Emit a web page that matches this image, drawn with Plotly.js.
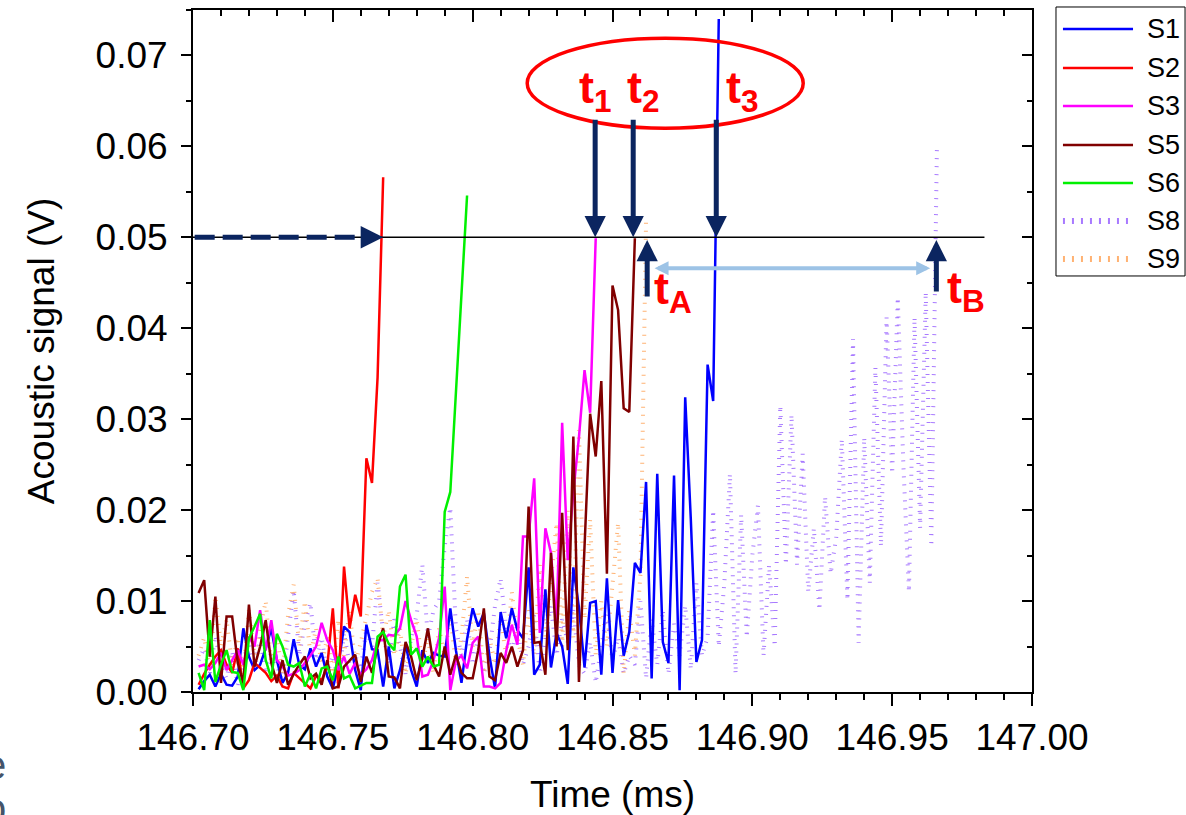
<!DOCTYPE html>
<html>
<head>
<meta charset="utf-8">
<script src="https://cdn.plot.ly/plotly-3.0.1.min.js"></script>
<style>html,body{margin:0;padding:0;background:#fff;}#chart{width:1186px;height:815px;}</style>
</head>
<body>
<div id="chart"></div>
<script>
// Sample times (ms), 2 µs sampling
const T = [
146.700,146.702,146.704,146.706,146.708,146.710,146.712,146.714,146.716,146.718,
146.720,146.722,146.724,146.726,146.728,146.730,146.732,146.734,146.736,146.738,
146.740,146.742,146.744,146.746,146.748,146.750,146.752,146.754,146.756,146.758,
146.760,146.762,146.764,146.766,146.768,146.770,146.772,146.774,146.776,146.778,
146.780,146.782,146.784,146.786,146.788,146.790,146.792,146.794,146.796,146.798,
146.800,146.802,146.804,146.806,146.808,146.810,146.812,146.814,146.816,146.818,
146.820,146.822,146.824,146.826,146.828,146.830,146.832,146.834,146.836,146.838,
146.840,146.842,146.844,146.846,146.848,146.850,146.852,146.854,146.856,146.858,
146.860,146.862,146.864,146.866,146.868,146.870,146.872,146.874,146.876,146.878,
146.880,146.882,146.884,146.886,146.888,146.890,146.892,146.894,146.896,146.898,
146.900,146.902,146.904,146.906,146.908,146.910,146.912,146.914,146.916,146.918,
146.920,146.922,146.924,146.926,146.928,146.930,146.932,146.934,146.936,146.938,
146.940,146.942,146.944,146.946,146.948,146.950,146.952,146.954,146.956,146.958,
146.960,146.962,146.964,146.966
];

const S1 = [
0.0003,0.0012,0.0019,0.0006,0.0020,0.0008,0.0007,0.0017,0.0070,0.0039,
0.0024,0.0030,0.0048,0.0070,0.0035,0.0010,0.0021,0.0058,0.0030,0.0025,
0.0048,0.0028,0.0043,0.0017,0.0004,0.0030,0.0072,0.0066,0.0024,0.0002,
0.0074,0.0047,0.0046,0.0006,0.0050,0.0004,0.0024,0.0052,0.0024,0.0006,
0.0046,0.0032,0.0043,0.0040,0.0039,0.0092,0.0046,0.0010,0.0058,0.0092,
0.0072,0.0087,0.0040,0.0004,0.0088,0.0059,0.0092,0.0068,0.0059,0.0137,
0.0019,0.0030,0.0113,0.0027,0.0065,0.0050,0.0009,0.0137,0.0093,0.0027,
0.0098,0.0100,0.0019,0.0125,0.0021,0.0101,0.0040,0.0066,0.0142,0.0131,
0.0231,0.0015,0.0240,0.0055,0.0032,0.0238,0.0002,0.0324,0.0190,0.0033,
0.0057,0.0360,0.0320,0.0740
];
const S2 = [
0.0008,0.0020,0.0030,0.0039,0.0046,0.0030,0.0021,0.0048,0.0004,0.0013,
0.0032,0.0026,0.0021,0.0012,0.0018,0.0006,0.0004,0.0021,0.0015,0.0010,
0.0004,0.0018,0.0013,0.0028,0.0092,0.0004,0.0138,0.0070,0.0107,0.0083,
0.0257,0.0230,0.0346,0.0566
];
const S3 = [
0.0028,0.0030,0.0025,0.0032,0.0043,0.0024,0.0035,0.0046,0.0030,0.0061,
0.0050,0.0090,0.0046,0.0079,0.0035,0.0028,0.0018,0.0020,0.0024,0.0032,
0.0040,0.0050,0.0076,0.0057,0.0046,0.0024,0.0039,0.0020,0.0032,0.0019,
0.0025,0.0035,0.0057,0.0057,0.0063,0.0062,0.0070,0.0100,0.0079,0.0061,
0.0017,0.0019,0.0035,0.0060,0.0116,0.0002,0.0034,0.0040,0.0026,0.0054,
0.0061,0.0006,0.0006,0.0004,0.0010,0.0045,0.0074,0.0052,0.0171,0.0171,
0.0235,0.0065,0.0180,0.0153,0.0076,0.0296,0.0145,0.0220,0.0280,0.0354,
0.0307,0.0499
];
const S5 = [
0.0109,0.0123,0.0039,0.0105,0.0010,0.0083,0.0083,0.0032,0.0010,0.0096,
0.0028,0.0050,0.0079,0.0032,0.0010,0.0035,0.0008,0.0020,0.0030,0.0039,
0.0015,0.0020,0.0008,0.0035,0.0004,0.0006,0.0028,0.0035,0.0041,0.0011,
0.0039,0.0021,0.0050,0.0070,0.0017,0.0016,0.0004,0.0055,0.0039,0.0013,
0.0037,0.0070,0.0030,0.0017,0.0050,0.0019,0.0041,0.0021,0.0015,0.0015,
0.0046,0.0092,0.0017,0.0013,0.0043,0.0032,0.0050,0.0028,0.0046,0.0204,
0.0054,0.0055,0.0019,0.0153,0.0050,0.0197,0.0046,0.0281,0.0011,0.0160,
0.0306,0.0259,0.0342,0.0130,0.0447,0.0420,0.0312,0.0308,0.0499
];
const S6 = [
0.0021,0.0002,0.0079,0.0011,0.0030,0.0046,0.0022,0.0021,0.0002,0.0059,
0.0072,0.0086,0.0035,0.0015,0.0064,0.0050,0.0030,0.0028,0.0032,0.0006,
0.0020,0.0004,0.0026,0.0028,0.0013,0.0039,0.0015,0.0018,0.0004,0.0007,
0.0010,0.0010,0.0061,0.0066,0.0053,0.0046,0.0116,0.0129,0.0041,0.0048,
0.0028,0.0039,0.0028,0.0030,0.0198,0.0220,0.0329,0.0438,0.0546
];
const S8 = [
0.0035,0.0048,0.0020,0.0062,0.0030,0.0015,0.0045,0.0008,0.0035,0.0055,
0.0025,0.0060,0.0020,0.0045,0.0030,0.0010,0.0062,0.0112,0.0040,0.0075,
0.0098,0.0035,0.0060,0.0020,0.0040,0.0010,0.0065,0.0030,0.0040,0.0025,
0.0070,0.0050,0.0120,0.0065,0.0030,0.0080,0.0050,0.0020,0.0060,0.0085,
0.0140,0.0060,0.0090,0.0100,0.0160,0.0203,0.0070,0.0040,0.0080,0.0030,
0.0060,0.0020,0.0045,0.0095,0.0125,0.0070,0.0040,0.0075,0.0030,0.0050,
0.0085,0.0020,0.0060,0.0095,0.0040,0.0080,0.0055,0.0090,0.0030,0.0020,
0.0055,0.0010,0.0050,0.0085,0.0035,0.0060,0.0020,0.0040,0.0030,0.0100,
0.0015,0.0080,0.0030,0.0090,0.0020,0.0075,0.0040,0.0095,0.0025,0.0120,
0.0040,0.0060,0.0200,0.0050,0.0120,0.0240,0.0020,0.0195,0.0060,0.0150,
0.0205,0.0040,0.0140,0.0050,0.0315,0.0140,0.0305,0.0140,0.0262,0.0110,
0.0180,0.0090,0.0215,0.0130,0.0170,0.0278,0.0101,0.0388,0.0054,0.0280,
0.0120,0.0357,0.0160,0.0412,0.0240,0.0434,0.0250,0.0110,0.0412,0.0180,
0.0440,0.0160,0.0598
];
const S9 = [
0.0040,0.0060,0.0025,0.0105,0.0050,0.0080,0.0030,0.0060,0.0020,0.0090,
0.0040,0.0070,0.0100,0.0030,0.0060,0.0020,0.0085,0.0118,0.0050,0.0100,
0.0040,0.0070,0.0030,0.0060,0.0020,0.0080,0.0040,0.0090,0.0030,0.0055,
0.0085,0.0110,0.0125,0.0060,0.0090,0.0040,0.0070,0.0020,0.0050,0.0080,
0.0030,0.0060,0.0020,0.0070,0.0040,0.0085,0.0030,0.0060,0.0127,0.0050,
0.0090,0.0020,0.0060,0.0030,0.0080,0.0040,0.0110,0.0060,0.0030,0.0090,
0.0040,0.0140,0.0060,0.0120,0.0186,0.0050,0.0200,0.0060,0.0288,0.0080,
0.0190,0.0040,0.0100,0.0050,0.0120,0.0186,0.0020,0.0090,0.0040,0.0130,
0.0519
];

const seriesNames = ['S1','S2','S3','S5','S6','S8','S9'];
const seriesData  = [S1, S2, S3, S5, S6, S8, S9];
const seriesColor = ['#0000FF','#FF0000','#FF00FF','#800000','#00F000','rgb(168,122,255)','rgb(255,178,115)'];
const dotted = [false,false,false,false,false,true,true];

// Markers / annotation values (data units)
const threshold = 0.05;
const xMin = 146.70, xMax = 147.00, yMin = 0, yMax = 0.075;
const thresholdEnd = 146.983;
const tDown = [146.8438, 146.8574, 146.8871];          // t1, t2, t3
const tUp = [146.8624, 146.9658];                      // tA, tB
const baseArrowEnd = 146.768;
const bandY = 0.0466, bandX0 = 146.8645, bandX1 = 146.9636;

const NAVY = '#0B2560';
const FONT = 'Liberation Sans, Arial, sans-serif';

const traces = [];
const order = [5,6,0,1,2,3,4];
order.forEach(k => {
  const v = seriesData[k];
  traces.push({
    x: T.slice(1, v.length + 1), y: v, type: 'scatter', mode: 'lines',
    name: seriesNames[k], hoverinfo: 'skip', showlegend: false,
    line: dotted[k] ? {color: seriesColor[k], width: 4, dash: '1px,7px'}
                    : {color: seriesColor[k], width: 2.5}
  });
});
// dummy trace for mirrored tick axes
traces.push({x: [], y: [], xaxis: 'x2', yaxis: 'y2', showlegend: false, hoverinfo: 'skip'});

const shapes = [
  {type:'line', xref:'x', yref:'y', x0:xMin, x1:thresholdEnd, y0:threshold, y1:threshold,
   line:{color:'#000', width:1.5}},
  {type:'line', xref:'x', yref:'y', x0:xMin+0.0006, x1:baseArrowEnd-0.004, y0:threshold, y1:threshold,
   line:{color:NAVY, width:5, dash:'20px,8px'}},
  {type:'circle', xref:'x', yref:'y', x0:146.8195, x1:146.9182, y0:0.0620, y1:0.0719,
   line:{color:'#FF0000', width:3.5}}
];

const annotations = [];
// arrowhead of dashed arrow
annotations.push({x: baseArrowEnd, y: threshold, xref:'x', yref:'y', ax:-14, ay:0, text:'',
  showarrow:true, arrowhead:2, arrowsize:0.9, arrowwidth:5, arrowcolor:NAVY, standoff:0});
// down arrows
tDown.forEach(x => annotations.push({x: x, y: threshold, xref:'x', yref:'y', ax:0, ay:-119, text:'',
  showarrow:true, arrowhead:2, arrowsize:0.85, arrowwidth:5, arrowcolor:NAVY, standoff:0}));
// up arrows
annotations.push({x: tUp[0], y: 0.0497, xref:'x', yref:'y', ax:0, ay:58, text:'',
  showarrow:true, arrowhead:2, arrowsize:0.85, arrowwidth:5, arrowcolor:NAVY, standoff:0});
annotations.push({x: tUp[1], y: 0.0497, xref:'x', yref:'y', ax:0, ay:53, text:'',
  showarrow:true, arrowhead:2, arrowsize:0.85, arrowwidth:5, arrowcolor:NAVY, standoff:0});
// light-blue double arrow
annotations.push({x: bandX1, y: bandY, xref:'x', yref:'y', ax: bandX0, ay: bandY, axref:'x', ayref:'y',
  text:'', showarrow:true, arrowside:'end+start', arrowhead:2, arrowsize:0.7, arrowwidth:4,
  arrowcolor:'#9DC3E6', standoff:0, startstandoff:0});

const labFont = {family: FONT, size: 45, color: '#FF0000', weight: 'bold'};
const labels = [
  ['<b>t<sub>1</sub></b>', 146.8438, 0.0662],
  ['<b>t<sub>2</sub></b>', 146.8610, 0.0662],
  ['<b>t<sub>3</sub></b>', 146.8964, 0.0662],
  ['<b>t<sub>A</sub></b>', 146.8718, 0.0440],
  ['<b>t<sub>B</sub></b>', 146.9763, 0.0442]
];
labels.forEach(l => annotations.push({text:l[0], x:l[1], y:l[2], xref:'x', yref:'y',
  showarrow:false, font:labFont, xanchor:'center', yanchor:'middle'}));

// manual legend
const legX0 = 1.0369, legX1 = 1.1204, legTx = 1.1347;
const legY = [0.9721, 0.9150, 0.8592, 0.8021, 0.7463, 0.6906, 0.6349];
shapes.push({type:'rect', xref:'paper', yref:'paper', x0:1.0286, x1:1.1824, y0:0.6100, y1:1.0044,
  line:{color:'#000', width:1}, fillcolor:'rgba(0,0,0,0)'});
seriesNames.forEach((n, k) => {
  shapes.push({type:'line', xref:'paper', yref:'paper', x0:legX0, x1:legX1, y0:legY[k], y1:legY[k],
    line: dotted[k] ? {color:seriesColor[k], width:6, dash:'2px,7px'} : {color:seriesColor[k], width:2.5}});
  annotations.push({text:n, xref:'paper', yref:'paper', x:legTx, y:legY[k], xanchor:'left', yanchor:'middle',
    showarrow:false, font:{family:FONT, size:27, color:'#000'}});
});
// cut-off letters of neighbouring figure at left edge
annotations.push({text:'e', xref:'paper', yref:'paper', x:-0.2365, y:-0.107, xanchor:'center', yanchor:'middle',
  showarrow:false, font:{family:FONT, size:40, color:'#44546A'}});
annotations.push({text:'o', xref:'paper', yref:'paper', x:-0.2365, y:-0.170, xanchor:'center', yanchor:'middle',
  showarrow:false, font:{family:FONT, size:40, color:'#44546A'}});

const tickFont = {family: FONT, size: 37, color: '#000'};
const layout = {
  width: 1186, height: 815,
  margin: {l:193, r:154, t:10, b:123, pad:0},
  paper_bgcolor:'#fff', plot_bgcolor:'#fff',
  showlegend: false,
  font: {family: FONT, color:'#000'},
  xaxis: {
    range:[xMin, xMax], tick0:146.70, dtick:0.05, tickformat:'.2f',
    ticks:'outside', ticklen:12, tickwidth:2, tickcolor:'#000',
    showline:true, linewidth:2, linecolor:'#000', mirror:true,
    showgrid:false, zeroline:false, tickfont: tickFont,
    minor:{dtick:0.01, ticks:'outside', ticklen:6, tickwidth:2, tickcolor:'#000', showgrid:false},
    title:{text:'Time (ms)', font:{family:FONT, size:37, color:'#000'}, standoff:24}
  },
  yaxis: {
    range:[yMin, yMax], tick0:0, dtick:0.01, tickformat:'.2f',
    ticks:'outside', ticklen:10, tickwidth:2, tickcolor:'#000',
    showline:true, linewidth:2, linecolor:'#000', mirror:true,
    showgrid:false, zeroline:false, tickfont: tickFont, ticklabelstandoff: 6,
    minor:{dtick:0.005, ticks:'outside', ticklen:5, tickwidth:2, tickcolor:'#000', showgrid:false},
    title:{text:'Acoustic signal (V)', font:{family:FONT, size:37, color:'#000'}, standoff:30}
  },
  xaxis2: {
    overlaying:'x', side:'top', anchor:'y2', range:[xMin, xMax], tick0:146.70, dtick:0.05,
    ticks:'inside', ticklen:12, tickwidth:2, tickcolor:'#000', showticklabels:false,
    showline:false, showgrid:false, zeroline:false,
    minor:{dtick:0.01, ticks:'inside', ticklen:6, tickwidth:2, tickcolor:'#000', showgrid:false}
  },
  yaxis2: {
    overlaying:'y', side:'right', anchor:'x2', range:[yMin, yMax], tick0:0, dtick:0.01,
    ticks:'inside', ticklen:10, tickwidth:2, tickcolor:'#000', showticklabels:false,
    showline:false, showgrid:false, zeroline:false,
    minor:{dtick:0.005, ticks:'inside', ticklen:5, tickwidth:2, tickcolor:'#000', showgrid:false}
  },
  shapes: shapes,
  annotations: annotations
};

Plotly.newPlot('chart', traces, layout, {staticPlot:true, displayModeBar:false});
</script>
</body>
</html>
